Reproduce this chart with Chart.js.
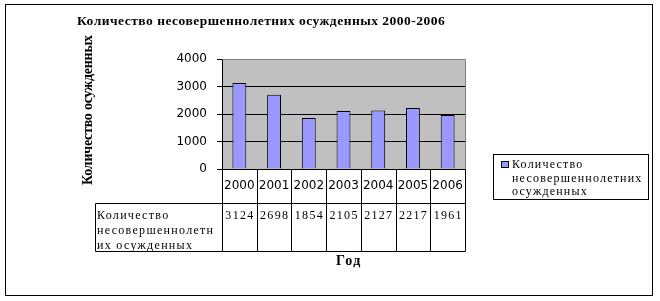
<!DOCTYPE html>
<html>
<head>
<meta charset="utf-8">
<script src="https://cdn.jsdelivr.net/npm/chart.js@4.4.1/dist/chart.umd.min.js"></script>
<style>
  html, body { margin: 0; padding: 0; background: #fff; }
  canvas { display: block; }
</style>
</head>
<body>
<canvas id="c" width="660" height="301"></canvas>
<script>
const categories = ['2000', '2001', '2002', '2003', '2004', '2005', '2006'];
const values = [3124, 2698, 1854, 2105, 2127, 2217, 1961];
const yTicks = [0, 1000, 2000, 3000, 4000];
const seriesLabel = 'Количество несовершеннолетних осужденных';
const rowLabelLines = ['Количество', 'несовершеннолетн', 'их осужденных'];
const legendLines = ['Количество', 'несовершеннолетних', 'осужденных'];
const titleText = 'Количество несовершеннолетних осужденных 2000-2006';
const yTitleText = 'Количество осужденных';
const xTitleText = 'Год';

const SERIF = '"Liberation Serif", "Times New Roman", serif';
const SANS = '"DejaVu Sans", Verdana, sans-serif';

function fitText(ctx, text, x, y, width) {
  ctx.letterSpacing = '0px';
  const w = ctx.measureText(text).width;
  const ls = (width - w) / Math.max(1, text.length - 1);
  ctx.letterSpacing = ls.toFixed(2) + 'px';
  ctx.fillText(text, x, y);
  ctx.letterSpacing = '0px';
}

const decor = {
  id: 'decor',
  beforeDraw(chart) {
    const ctx = chart.ctx;
    const a = chart.chartArea;
    ctx.save();
    ctx.fillStyle = '#fff';
    ctx.fillRect(0, 0, chart.width, chart.height);
    ctx.fillStyle = '#C0C0C0';
    ctx.fillRect(a.left, a.top, a.right - a.left, a.bottom - a.top);
    ctx.restore();
  },
  afterDraw(chart) {
    const ctx = chart.ctx;
    const a = chart.chartArea;
    const xs = chart.scales.x;
    const n = categories.length;
    const catW = (xs.right - xs.left) / n;
    ctx.save();
    // plot border top/right (gray)
    ctx.strokeStyle = '#808080';
    ctx.lineWidth = 1;
    ctx.beginPath();
    ctx.moveTo(Math.round(a.left) + 0.5, Math.round(a.top) + 0.5);
    ctx.lineTo(Math.round(a.right) + 0.5, Math.round(a.top) + 0.5);
    ctx.lineTo(Math.round(a.right) + 0.5, Math.round(a.bottom) + 0.5);
    ctx.stroke();

    // data table
    const hdrTop = Math.round(a.bottom) + 0.5;
    const rowTop = hdrTop + 34;
    const rowBot = rowTop + 48;
    const tblLeft = 95.5;
    ctx.strokeStyle = '#000';
    ctx.beginPath();
    for (let i = 0; i <= n; i++) {
      const x = Math.round(xs.left + i * catW) + 0.5;
      ctx.moveTo(x, hdrTop);
      ctx.lineTo(x, rowBot);
    }
    ctx.moveTo(tblLeft, rowTop); ctx.lineTo(Math.round(xs.right) + 0.5, rowTop);
    ctx.moveTo(tblLeft, rowBot); ctx.lineTo(Math.round(xs.right) + 0.5, rowBot);
    ctx.moveTo(tblLeft, rowTop); ctx.lineTo(tblLeft, rowBot);
    ctx.stroke();

    ctx.fillStyle = '#000';
    ctx.font = '12px ' + SERIF;
    ctx.textBaseline = 'middle';
    ctx.textAlign = 'center';
    for (let i = 0; i < n; i++) {
      const cx = xs.left + (i + 0.5) * catW;
      ctx.letterSpacing = '1.3px';
      ctx.fillText(String(values[i]), cx + 0.6, rowTop + 12);
    }
    ctx.textAlign = 'left';
    ctx.font = '12px ' + SERIF;
    ctx.letterSpacing = '1.3px';
    rowLabelLines.forEach((t, k) => {
      ctx.fillText(t, 97, rowTop + 12 + k * 15);
    });
    ctx.letterSpacing = '0px';

    // title
    ctx.font = 'bold 13.5px ' + SERIF;
    ctx.textAlign = 'left';
    fitText(ctx, titleText, 77, 22, 368);

    // x title
    ctx.textAlign = 'center';
    ctx.font = 'bold 14px ' + SERIF;
    ctx.letterSpacing = '1.5px';
    ctx.fillText(xTitleText, 349, 261);
    ctx.letterSpacing = '0px';

    // y title
    ctx.save();
    ctx.translate(88, 110);
    ctx.rotate(-Math.PI / 2);
    ctx.textAlign = 'left';
    ctx.font = 'bold 14px ' + SERIF;
    fitText(ctx, yTitleText, -75, 0, 150);
    ctx.restore();

    // legend
    ctx.strokeStyle = '#000';
    ctx.strokeRect(493.5, 154.5, 155, 45);
    ctx.fillStyle = '#9999FF';
    ctx.fillRect(501, 161, 8, 7);
    ctx.strokeRect(501.5, 161.5, 7, 6);
    ctx.fillStyle = '#000';
    ctx.font = '12px ' + SERIF;
    ctx.textAlign = 'left';
    ctx.letterSpacing = '1.2px';
    legendLines.forEach((t, k) => ctx.fillText(t, 512, 165 + k * 13.5));
    ctx.letterSpacing = '0px';

    // outer border
    ctx.strokeRect(5.5, 4.5, 647, 291);
    ctx.restore();
  }
};

new Chart(document.getElementById('c'), {
  type: 'bar',
  data: {
    labels: categories,
    datasets: [{
      label: seriesLabel,
      data: values,
      backgroundColor: '#9999FF',
      borderColor: '#000',
      borderWidth: 1,
      categoryPercentage: 1,
      barPercentage: 0.4
    }]
  },
  options: {
    responsive: false,
    animation: false,
    devicePixelRatio: 1,
    layout: { padding: { left: 0, right: 195, top: 59, bottom: 99 } },
    plugins: { legend: { display: false }, title: { display: false }, tooltip: { enabled: false } },
    scales: {
      y: {
        min: 0, max: 4000,
        afterBuildTicks(scale) { scale.ticks = yTicks.map(v => ({ value: v })); },
        afterFit(scale) { scale.width = 222; },
        ticks: { font: { family: SANS, size: 12 }, color: '#000', padding: 10, callback: v => String(v) },
        grid: {
          color: c => (c.tick && c.tick.value === 4000) ? '#808080' : '#000',
          tickColor: '#000', tickLength: 5, drawTicks: true, lineWidth: 1
        },
        border: { display: true, color: '#000' }
      },
      x: {
        afterFit(scale) { scale.height = 33; },
        ticks: { font: { family: SANS, size: 12 }, color: '#000', padding: 10, maxRotation: 0 },
        grid: { display: false, drawTicks: false },
        border: { display: true, color: '#000' }
      }
    }
  },
  plugins: [decor]
});
</script>
</body>
</html>
